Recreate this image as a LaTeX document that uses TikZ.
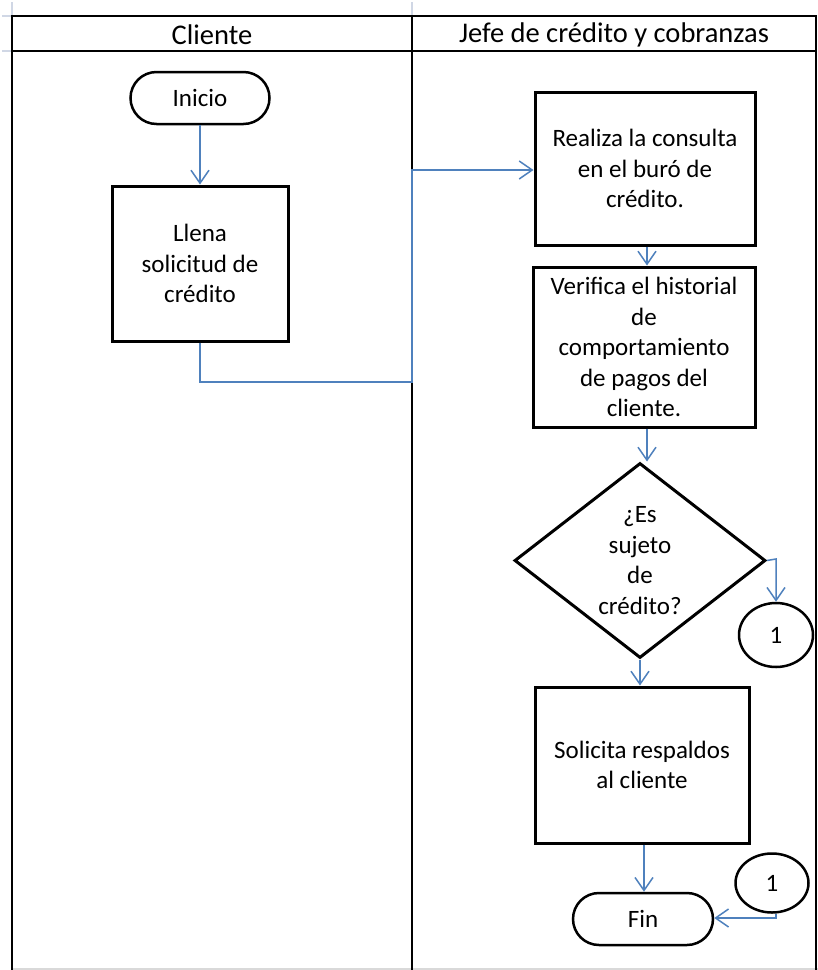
\documentclass[tikz,border=0pt]{standalone}
\usepackage{fontspec}
\setmainfont{Carlito}
\usetikzlibrary{arrows.meta,shapes.geometric,shapes.misc}

\definecolor{flowblue}{HTML}{4F81BD}
\definecolor{gridgrey}{HTML}{D0D7E5}

\tikzset{
  every node/.style={font=\fontsize{25}{30.5}\selectfont, text=black, align=center},
  header/.style={font=\fontsize{28.5}{34}\selectfont},
  lane/.style={draw=black, line width=2pt},
  procbox/.style={draw=black, line width=3pt, rectangle, inner sep=0pt},
  termbox/.style={draw=black, line width=2.5pt, rounded rectangle, inner sep=0pt},
  decbox/.style={draw=black, line width=3pt, diamond, inner sep=0pt},
  connbox/.style={draw=black, line width=2.5pt, ellipse, inner sep=0pt},
  flow/.style={draw=flowblue, line width=1.5pt,
    -{Straight Barb[length=13pt,width=18pt,line width=1.5pt]}},
}

\begin{document}
\begin{tikzpicture}[x=1pt,y=-1pt]
  \useasboundingbox (0,0) rectangle (818,970);
  \fill[white] (0,0) rectangle (818,970);

  % spreadsheet grid traces around the table
  \draw[gridgrey, line width=1.5pt] (12,2) -- (12,16) (412,2) -- (412,16)
    (2,16) -- (12,16) (2,51) -- (12,51);
  \draw[gray!30, line width=1.5pt] (12,969) -- (818,969);

  % swimlane table
  \draw[lane] (12,970) -- (12,16) -- (816,16) -- (816,970);
  \draw[lane] (12,51) -- (816,51);
  \draw[lane] (412,16) -- (412,970);
  \node[header] (hcli) at (212,35) {Cliente};
  \node[header] (hjefe) at (614,35) {Jefe de crédito y cobranzas};

  % Cliente lane
  \node[termbox, minimum width=139pt, minimum height=52pt] (inicio) at (200,98) {Inicio};
  \node[procbox, minimum width=176pt, minimum height=155pt] (llena) at (200,263.5)
    {Llena\\solicitud de\\crédito};

  % Jefe de crédito lane
  \node[procbox, minimum width=220pt, minimum height=153pt] (consulta) at (645,168.5)
    {Realiza la consulta\\en el buró de\\crédito.};
  \node[procbox, minimum width=222pt, minimum height=160pt] (verifica) at (644,347)
    {Verifica el historial\\de\\comportamiento\\de pagos del\\cliente.};
  \node[decbox, minimum width=251pt, minimum height=195pt] (sujeto) at (640,560.5)
    {¿Es\\sujeto\\de\\crédito?};
  \node[connbox, minimum width=74pt, minimum height=64pt] (cona) at (776,635) {1};
  \node[procbox, minimum width=214pt, minimum height=156pt] (respaldos) at (642,765)
    {Solicita respaldos\\al cliente};
  \node[termbox, minimum width=140pt, minimum height=52pt] (fin) at (643,919) {Fin};
  \node[connbox, minimum width=73pt, minimum height=59pt] (conb) at (772,883) {1};

  % connectors
  \draw[flow] (inicio.south) -- (llena.north);
  \coordinate (k1) at (200,382);
  \coordinate (k2) at (412,382);
  \coordinate (k3) at (412,170);
  \draw[flow] (llena.south) -- (k1) -- (k2) -- (k3) -- (consulta.west |- k3);
  \draw[flow] (consulta.south -| 647,0) -- (verifica.north -| 647,0);
  \draw[flow] (verifica.south -| 647,0) -- (sujeto.north -| 647,0);
  \coordinate (k4) at (776,559);
  \draw[flow] (sujeto.east) -- (k4) -- (cona.north);
  \draw[flow] (sujeto.south) -- (respaldos.north -| sujeto.south);
  \draw[flow] (respaldos.south -| 644,0) -- (fin.north -| 644,0);
  \coordinate (k5) at (776,918);
  \draw[flow] (conb.south -| k5) -- (k5) -- (fin.east |- k5);
\end{tikzpicture}
\end{document}
